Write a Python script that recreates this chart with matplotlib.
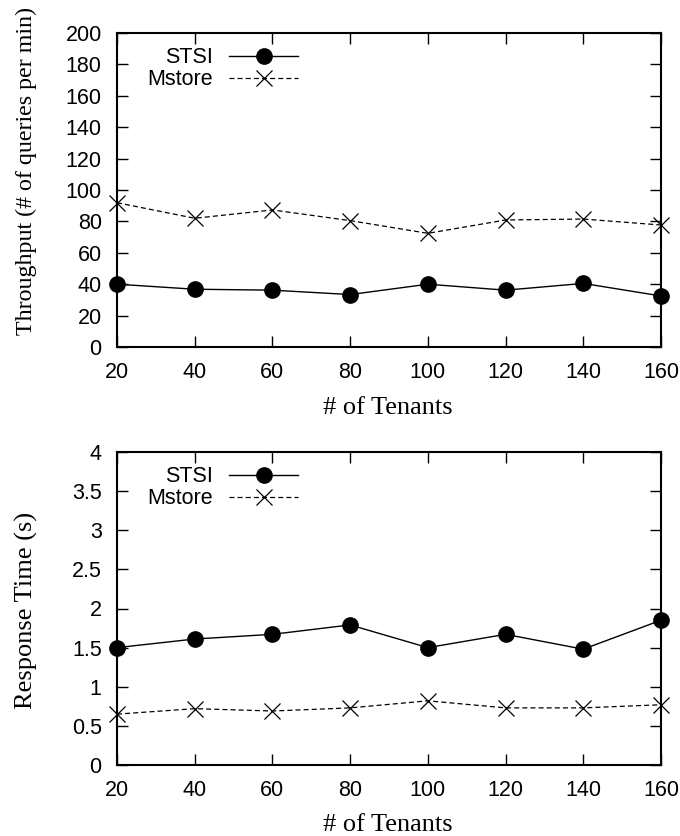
import numpy as np
import matplotlib.pyplot as plt

tenants = [20, 40, 60, 80, 100, 120, 140, 160]

# throughput, queries per minute
stsi_tput = [40.0, 36.8, 36.2, 33.4, 40.0, 36.2, 40.5, 32.5]
mstore_tput = [91.9, 82.0, 87.3, 80.5, 72.4, 80.9, 81.5, 77.7]

# response time, seconds
stsi_rt = [1.50, 1.61, 1.67, 1.79, 1.50, 1.67, 1.48, 1.85]
mstore_rt = [0.65, 0.72, 0.69, 0.73, 0.82, 0.73, 0.73, 0.77]

tick_font = 'Liberation Sans'
label_font = 'Liberation Serif'
W, H = 680, 836

fig = plt.figure(figsize=(6.8, 8.36), dpi=100)
ax1 = fig.add_axes([117 / W, 1 - 347 / H, 544 / W, 314 / H])
ax2 = fig.add_axes([117 / W, 1 - 765 / H, 544 / W, 313 / H])


def draw(ax, a, b, ylim, yticks):
    ax.plot(tenants, a, color='black', lw=1.0, marker='o', ms=11,
            label='STSI', clip_on=False, zorder=3)
    ax.plot(tenants, b, color='black', lw=0.9, ls=(0, (4, 2.5)), marker='x',
            ms=11, mew=0.9, label='Mstore', clip_on=False, zorder=3)
    ax.set_xlim(20, 160)
    ax.set_ylim(*ylim)
    ax.set_xticks(tenants)
    ax.set_yticks(yticks)
    ax.set_yticklabels([('%g' % v) for v in yticks])
    ax.tick_params(direction='in', length=8, width=1.0, top=True, right=True,
                   labelsize=15.5, pad=11)
    for lab in ax.get_xticklabels() + ax.get_yticklabels():
        lab.set_fontfamily(tick_font)
    for s in ax.spines.values():
        s.set_linewidth(1.5)
    leg = ax.legend(loc='upper right', bbox_to_anchor=(0.333, 0.955),
                    frameon=False, markerfirst=False, borderpad=0,
                    borderaxespad=0, handlelength=3.2, handletextpad=0.74,
                    labelspacing=0.05, prop={'family': tick_font, 'size': 15.5})
    for t in leg.get_texts():
        t.set_ha('right')


draw(ax1, stsi_tput, mstore_tput, (0, 200), np.arange(0, 201, 20))
draw(ax2, stsi_rt, mstore_rt, (0, 4), np.arange(0, 4.01, 0.5))

# axis titles placed by hand
lab = dict(fontfamily=label_font, ha='center', va='center')
fig.text(26 / W, 1 - 171 / H, 'Throughput (# of queries per min)',
         rotation=90, fontsize=17.3, **lab)
fig.text(26 / W, 1 - 610 / H, 'Response Time (s)', rotation=90,
         fontsize=19, **lab)
fig.text(388 / W, 1 - 408 / H, '# of Tenants', fontsize=19, **lab)
fig.text(388 / W, 1 - 825 / H, '# of Tenants', fontsize=19, **lab)

fig.savefig('out.png', dpi=100)
